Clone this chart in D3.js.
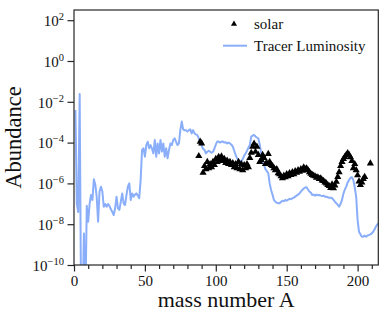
<!DOCTYPE html>
<html>
<head>
<meta charset="utf-8">
<script src="https://cdn.jsdelivr.net/npm/d3@7/dist/d3.min.js"></script>
<style>
	body{margin:0;background:#fff}
	svg{display:block}
	svg text{font-family:"Liberation Serif","Times New Roman",serif}
</style>
</head>
<body>
<div id="chart"></div>
<script>
// tracer luminosity, log10 abundance for A = 1..215 (-12 = below the axis)
let tracerLog = [
	-2.40,-7.00,-7.40,-1.62,-12,-12,-8.45,-12,-7.10,-7.88,
	-7.00,-6.57,-6.81,-5.80,-6.05,-6.65,-7.88,-6.40,-6.16,-6.40,
	-7.14,-7.01,-7.14,-7.01,-7.10,-7.27,-7.39,-7.55,-7.22,-6.65,
	-7.22,-7.30,-6.90,-6.49,-6.98,-7.06,-6.57,-6.16,-6.00,-6.81,
	-6.49,-6.65,-6.55,-6.49,-6.60,-6.73,-5.83,-4.36,-4.28,-4.69,
	-4.12,-3.96,-4.28,-4.12,-4.30,-4.53,-3.87,-4.69,-4.04,-4.53,
	-3.87,-4.44,-4.04,-4.69,-4.28,-4.77,-4.36,-4.04,-4.12,-3.87,
	-3.79,-3.96,-4.12,-4.04,-3.38,-2.97,-3.35,-3.40,-3.39,-3.46,
	-3.40,-3.35,-3.55,-3.39,-3.55,-3.60,-3.63,-3.79,-4.04,-4.15,
	-4.30,-4.36,-4.53,-4.45,-4.40,-4.45,-4.50,-4.45,-4.30,-4.10,
	-3.95,-3.95,-4.00,-3.95,-3.95,-4.00,-3.98,-4.04,-4.00,-4.04,
	-4.10,-4.20,-4.40,-4.60,-4.77,-4.85,-4.90,-4.93,-4.80,-4.65,
	-4.53,-4.40,-4.25,-4.12,-3.71,-3.65,-3.63,-3.70,-3.75,-3.79,
	-4.10,-4.53,-4.80,-5.10,-5.30,-5.40,-5.50,-6.00,-6.32,-6.55,
	-6.81,-6.90,-6.95,-6.97,-6.97,-6.90,-6.85,-6.88,-6.81,-6.85,
	-6.80,-6.75,-6.78,-6.73,-6.70,-6.65,-6.60,-6.55,-6.49,-6.40,
	-6.32,-6.25,-6.20,-6.19,-6.30,-6.40,-6.45,-6.57,-6.55,-6.60,
	-6.55,-6.58,-6.57,-6.60,-6.62,-6.60,-6.65,-6.65,-6.68,-6.70,
	-6.70,-6.73,-6.80,-6.90,-6.97,-7.05,-7.14,-7.00,-6.81,-6.50,
	-6.30,-6.16,-5.95,-5.83,-5.72,-5.70,-5.83,-6.20,-6.65,-7.79,
	-8.37,-8.50,-8.61,-8.61,-8.55,-8.61,-8.55,-8.53,-8.50,-8.45,
	-8.37,-8.25,-8.10,-8.00,-7.95
]
let tracerA = tracerLog.map((v,i)=>i+1)

let solarA = [
	88,89,90,91,92,93,94,95,96,97,98,99,100,101,102,103,104,105,106,107,
	108,109,110,111,112,113,114,115,116,117,118,119,120,121,122,123,124,125,126,127,
	128,129,130,131,132,133,134,135,136,137,138,139,140,141,142,143,144,145,146,147,
	148,149,150,151,152,153,154,155,156,157,158,159,160,161,162,163,164,165,166,167,
	168,169,170,171,172,173,174,175,176,177,178,179,180,181,182,183,184,185,186,187,
	188,189,190,191,192,193,194,195,196,197,198,199,200,201,202,203,204,205,209
]
let solarLog = [
	-4.66,-3.95,-4.04,-5.47,-5.15,-5.30,-4.95,-5.25,-5.05,-5.20,-4.95,-5.10,-4.80,-4.95,-4.70,-4.85,-4.68,-4.90,-4.80,-5.00,
	-4.88,-5.05,-4.95,-5.10,-5.00,-5.20,-5.05,-5.25,-4.95,-5.30,-5.05,-5.35,-5.10,-5.25,-5.05,-5.20,-4.75,-4.50,-4.20,-4.05,
	-4.45,-4.20,-4.60,-4.95,-4.85,-4.60,-4.75,-5.05,-5.00,-4.55,-4.95,-5.10,-5.15,-5.25,-5.35,-5.30,-5.50,-5.55,-5.65,-5.75,
	-5.62,-5.70,-5.55,-5.65,-5.50,-5.58,-5.45,-5.55,-5.40,-5.48,-5.35,-5.42,-5.30,-5.38,-5.22,-5.30,-5.26,-5.35,-5.45,-5.52,
	-5.58,-5.62,-5.65,-5.72,-5.70,-5.78,-5.75,-5.85,-5.88,-5.95,-6.00,-6.08,-6.13,-6.22,-6.05,-6.24,-6.10,-5.92,-5.68,-5.45,
	-5.15,-4.95,-4.80,-4.70,-4.60,-4.52,-4.60,-4.72,-4.90,-5.25,-5.05,-5.35,-5.60,-5.90,-6.08,-5.95,-5.78,-5.68,-5.02
]

let xMajorTicks = [0,50,100,150,200]
let xMinorTicks = [10,20,30,40,60,70,80,90,110,120,130,140,160,170,180,190,210]
let yTickExponents = [-10,-8,-6,-4,-2,0,2]

let legendLabels = ["solar","Tracer Luminosity"]

let fullWidth = 390
let fullHeight = 312
let margin = {top:10,right:11.7,bottom:47,left:74}
let width = fullWidth - margin.left - margin.right
let height = fullHeight - margin.top - margin.bottom
let lineColour = "#8aaefa"
let axisColour = "#262626"

let svg = d3.select("#chart")
	.append("svg")
	.attr("width",fullWidth)
	.attr("height",fullHeight)

let g = svg.append("g")
	.attr("transform",`translate(${margin.left},${margin.top})`)

let xScale = d3.scaleLinear()
	.domain([0,214.6])
	.range([0,width])

let yScale = d3.scaleLog()
	.domain([1e-10,Math.pow(10,2.5)])
	.range([height,0])

g.append("clipPath")
	.attr("id","plotClip")
	.append("rect")
	.attr("width",width)
	.attr("height",height)

let plot = g.append("g").attr("clip-path","url(#plotClip)")

let tracer = tracerA.map((a,i)=>({a:a,v:Math.pow(10,tracerLog[i])}))
let lineGenerator = d3.line()
	.x(d=>xScale(d.a))
	.y(d=>yScale(d.v))

plot.append("path")
	.datum(tracer)
	.attr("d",lineGenerator)
	.attr("fill","none")
	.attr("stroke",lineColour)
	.attr("stroke-width",2)
	.attr("stroke-linejoin","round")

let triangle = d3.symbol().type(d3.symbolTriangle).size(22)

plot.selectAll(".solar")
	.data(solarA.map((a,i)=>({a:a,v:Math.pow(10,solarLog[i])})))
	.enter()
	.append("path")
	.attr("class","solar")
	.attr("d",triangle)
	.attr("transform",d=>`translate(${xScale(d.a)},${yScale(d.v)})`)
	.attr("fill","#000")

// axes
let xAxis = d3.axisBottom(xScale)
	.tickValues(xMajorTicks)
	.tickSize(6.5)
	.tickSizeOuter(0)
	.tickPadding(4)

let xMinor = d3.axisBottom(xScale)
	.tickValues(xMinorTicks)
	.tickSize(4)
	.tickSizeOuter(0)
	.tickFormat("")

let yAxis = d3.axisLeft(yScale)
	.tickValues(yTickExponents.map(e=>Math.pow(10,e)))
	.tickSize(6.5)
	.tickSizeOuter(0)
	.tickPadding(3.5)
	.tickFormat("")

g.append("g")
	.attr("class","x axis")
	.attr("transform",`translate(0,${height})`)
	.call(xAxis)
g.append("g")
	.attr("class","x minor")
	.attr("transform",`translate(0,${height})`)
	.call(xMinor)
g.append("g")
	.attr("class","y axis")
	.call(yAxis)

g.selectAll(".axis path, .minor path").remove()
g.selectAll(".tick line")
	.attr("stroke",axisColour)
	.attr("stroke-width",1.2)
g.selectAll(".x.axis text")
	.attr("font-size",15)
	.attr("fill","#111")

g.selectAll(".y.axis .tick")
	.each(function(d){
		let e = Math.round(Math.log10(d))
		let t = d3.select(this).select("text")
			.attr("x",-10)
			.attr("dy","0.35em")
			.attr("font-size",15)
			.attr("fill","#111")
			.attr("text-anchor","end")
		t.append("tspan").text("10")
		t.append("tspan")
			.attr("dy",-6)
			.attr("font-size",10.5)
			.text(e<0 ? "\u2212"+Math.abs(e) : e)
	})

g.append("rect")
	.attr("width",width)
	.attr("height",height)
	.attr("fill","none")
	.attr("stroke",axisColour)
	.attr("stroke-width",1.2)

// axis labels
svg.append("text")
	.attr("x",margin.left+width/2)
	.attr("y",307)
	.attr("text-anchor","middle")
	.attr("font-size",22)
	.attr("fill","#111")
	.text("mass number A")

svg.append("text")
	.attr("transform",`translate(21,${margin.top+height/2}) rotate(-90)`)
	.attr("text-anchor","middle")
	.attr("font-size",22.5)
	.attr("fill","#111")
	.text("Abundance")

// legend
let legend = svg.append("g").attr("class","legend")
legend.append("path")
	.attr("d",d3.symbol().type(d3.symbolTriangle).size(16))
	.attr("transform","translate(234,24)")
	.attr("fill","#000")
legend.append("line")
	.attr("x1",223).attr("x2",247)
	.attr("y1",45.7).attr("y2",45.7)
	.attr("stroke",lineColour)
	.attr("stroke-width",2)
legend.selectAll("text")
	.data(legendLabels)
	.enter()
	.append("text")
	.attr("x",254)
	.attr("y",(d,i)=>29+i*21.5)
	.attr("font-size",15)
	.attr("fill","#111")
	.text(d=>d)
</script>
</body>
</html>
